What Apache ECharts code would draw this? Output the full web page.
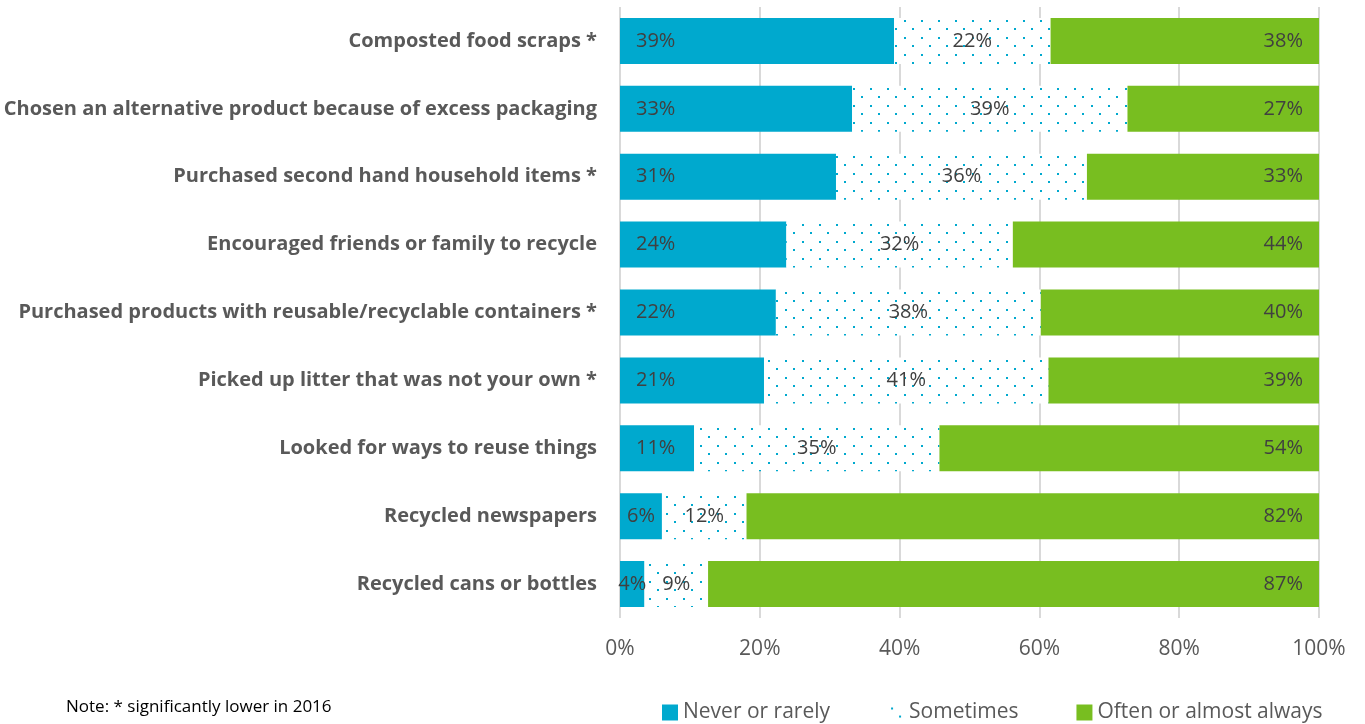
<!DOCTYPE html>
<html>
<head>
<meta charset="utf-8">
<script src="https://cdn.jsdelivr.net/npm/echarts@6/dist/echarts.min.js"></script>
<style>
  html, body { margin: 0; padding: 0; background: #fff; }
  #chart { width: 1365px; height: 724px; }
</style>
</head>
<body>
<div id="chart"></div>
<script>
// Survey items, top to bottom
const categories = [
  'Composted food scraps *',
  'Chosen an alternative product because of excess packaging',
  'Purchased second hand household items *',
  'Encouraged friends or family to recycle',
  'Purchased products with reusable/recyclable containers *',
  'Picked up litter that was not your own *',
  'Looked for ways to reuse things',
  'Recycled newspapers',
  'Recycled cans or bottles'
];

// Share of respondents (%) per frequency group
const neverRarely   = [39.2, 33.2, 30.9, 23.8, 22.3, 20.6, 10.6, 6.0, 3.5];
const sometimes     = [22.4, 39.4, 35.9, 32.4, 37.9, 40.7, 35.1, 12.1, 9.1];
const oftenAlways   = [38.4, 27.4, 33.2, 43.8, 39.8, 38.7, 54.3, 81.9, 87.4];

const seriesNames = ['Never or rarely', 'Sometimes', 'Often or almost always'];
const noteText = 'Note: * significantly lower in 2016';

const BLUE = '#00A9CE';
const GREEN = '#78BE20';
const LABEL = '#404040';
const AXIS_TEXT = '#595959';
const FONT = '"Open Sans", "Noto Sans", sans-serif';

// Dotted fill for the "Sometimes" segments
function makeDots() {
  const c = document.createElement('canvas');
  c.width = 17; c.height = 17;
  const g = c.getContext('2d');
  g.fillStyle = '#ffffff';
  g.fillRect(0, 0, 17, 17);
  g.fillStyle = BLUE;
  g.fillRect(3, 3, 2, 2);
  g.fillRect(11, 11, 2, 2);
  return c;
}
const dotFill = { image: makeDots(), repeat: 'repeat' };

const pct = p => Math.round(p.value) + '%';
const labelBase = { show: true, color: LABEL, fontFamily: FONT, fontSize: 20, formatter: pct };

const neverData = neverRarely.map(v => ({
  value: v,
  label: v < 8 ? { position: 'inside' } : { position: 'insideLeft', distance: 16 }
}));

const chart = echarts.init(document.getElementById('chart'), null, { renderer: 'canvas' });

chart.setOption({
  backgroundColor: '#ffffff',
  animation: false,
  title: {
    text: noteText,
    left: 61,
    top: 694,
    textStyle: { fontFamily: FONT, fontSize: 17, fontWeight: 'normal', color: '#000000' }
  },
  legend: {
    data: seriesNames,
    left: 657,
    top: 697,
    itemWidth: 16,
    itemHeight: 16,
    itemGap: 58,
    textStyle: { fontFamily: FONT, fontSize: 21, color: AXIS_TEXT },
    icon: 'rect'
  },
  grid: { left: 620, right: 46, top: 7, bottom: 106, containLabel: false },
  xAxis: {
    type: 'value',
    min: 0,
    max: 100,
    interval: 20,
    axisLine: { show: false },
    axisTick: { show: false },
    splitLine: { show: true, lineStyle: { color: '#d9d9d9', width: 2 } },
    axisLabel: {
      formatter: '{value}%',
      fontFamily: FONT,
      fontSize: 21,
      color: AXIS_TEXT,
      margin: 21
    }
  },
  yAxis: {
    type: 'category',
    data: categories,
    inverse: true,
    axisLine: { show: false },
    axisTick: { show: false },
    axisLabel: {
      fontFamily: FONT,
      fontSize: 20,
      fontWeight: 'bold',
      color: AXIS_TEXT,
      margin: 23
    }
  },
  series: [
    {
      name: seriesNames[0],
      type: 'bar',
      stack: 'total',
      barWidth: 46,
      itemStyle: { color: BLUE },
      label: labelBase,
      data: neverData
    },
    {
      name: seriesNames[1],
      type: 'bar',
      stack: 'total',
      barWidth: 46,
      itemStyle: { color: dotFill },
      label: Object.assign({}, labelBase, { position: 'inside' }),
      data: sometimes
    },
    {
      name: seriesNames[2],
      type: 'bar',
      stack: 'total',
      barWidth: 46,
      itemStyle: { color: GREEN },
      label: Object.assign({}, labelBase, { position: 'insideRight', distance: 16 }),
      data: oftenAlways
    }
  ]
});
</script>
</body>
</html>
